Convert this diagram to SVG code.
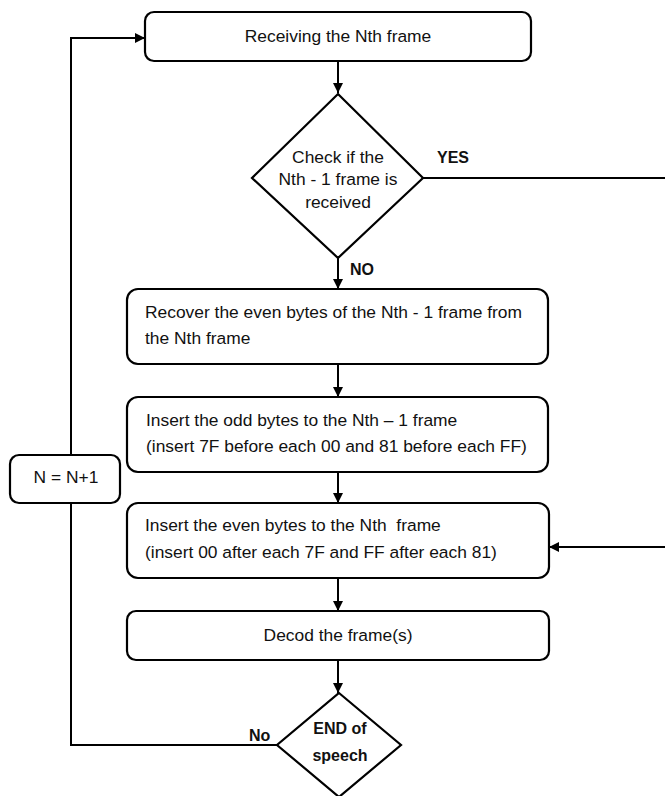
<svg xmlns="http://www.w3.org/2000/svg" width="665" height="796" viewBox="0 0 665 796">
<style>
.box{fill:#fff;stroke:#000;stroke-width:2.2}
.t{font-family:"Liberation Sans",Arial,sans-serif;font-size:17.4px;fill:#111}
.c{text-anchor:middle}
.b{font-family:"Liberation Sans",Arial,sans-serif;font-size:16px;font-weight:bold;fill:#111}
.ln{fill:none;stroke:#000;stroke-width:2}
</style>
<defs>
<marker id="ah" viewBox="0 0 10 10" refX="10" refY="5" markerWidth="10" markerHeight="10" markerUnits="userSpaceOnUse" orient="auto">
<path d="M0,0 L10,5 L0,10 z" fill="#000"/>
</marker>
</defs>
<g id="connectors">
<line class="ln" x1="338" y1="61" x2="338" y2="93" marker-end="url(#ah)"/>
<line class="ln" x1="338" y1="258" x2="338" y2="289" marker-end="url(#ah)"/>
<line class="ln" x1="338" y1="364" x2="338" y2="397" marker-end="url(#ah)"/>
<line class="ln" x1="338" y1="472" x2="338" y2="503" marker-end="url(#ah)"/>
<line class="ln" x1="338" y1="578" x2="338" y2="611" marker-end="url(#ah)"/>
<line class="ln" x1="338" y1="660" x2="338" y2="693" marker-end="url(#ah)"/>
<path class="ln" d="M423,178 H668 V547 H549" marker-end="url(#ah)"/>
<path class="ln" d="M277,745 H71 V38 H145" marker-end="url(#ah)"/>
<text class="b" x="437" y="163">YES</text>
<text class="b" x="350" y="275">NO</text>
<text class="b" x="249" y="741">No</text>
</g>
<g id="n1">
<rect class="box" x="145" y="12" width="386" height="49" rx="9"/>
<text class="t c" x="338" y="42">Receiving the Nth frame</text>
</g>
<g id="d1">
<polygon class="box" points="338,94 423,178 338,258 252,178"/>
<text class="t c" x="338" y="163">Check if the</text>
<text class="t c" x="338" y="185">Nth - 1 frame is</text>
<text class="t c" x="338" y="208">received</text>
</g>
<g id="n2">
<rect class="box" x="127" y="289" width="421" height="75" rx="11"/>
<text class="t" x="145" y="318">Recover the even bytes of the Nth - 1 frame from</text>
<text class="t" x="145" y="344">the Nth frame</text>
</g>
<g id="n3">
<rect class="box" x="127" y="397" width="421" height="75" rx="11"/>
<text class="t" x="146" y="426">Insert the odd bytes to the Nth – 1 frame</text>
<text class="t" x="146" y="452">(insert 7F before each 00 and 81 before each FF)</text>
</g>
<g id="n4">
<rect class="box" x="127" y="503" width="422" height="75" rx="11"/>
<text class="t" x="145" y="531" xml:space="preserve">Insert the even bytes to the Nth  frame</text>
<text class="t" x="145" y="558">(insert 00 after each 7F and FF after each 81)</text>
</g>
<g id="n5">
<rect class="box" x="127" y="611" width="422" height="49" rx="9"/>
<text class="t c" x="338" y="641">Decod the frame(s)</text>
</g>
<g id="d2">
<polygon class="box" points="339,693 401,745 339,797 277,745"/>
<text class="b c" x="340" y="734">END of</text>
<text class="b c" x="340" y="761">speech</text>
</g>
<g id="n6">
<rect class="box" x="10" y="455" width="110" height="48" rx="9"/>
<text class="t c" x="66" y="483">N = N+1</text>
</g>
</svg>
